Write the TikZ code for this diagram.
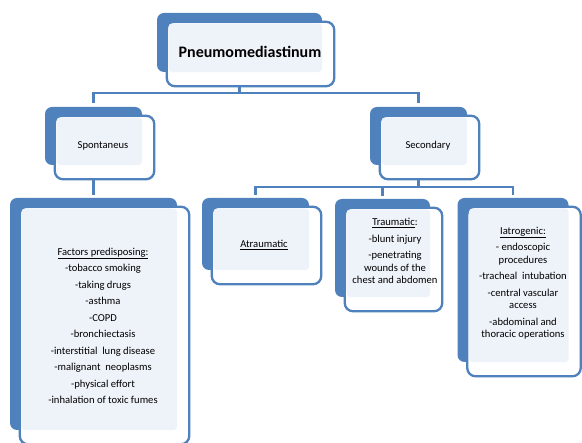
\documentclass[tikz,border=0pt]{standalone}
\usepackage{fontspec}
\setmainfont{Carlito}
\usetikzlibrary{calc}
\definecolor{cardblue}{HTML}{4F81BD}
\definecolor{cardtint}{HTML}{EEF2F9}
\tikzset{
  backcard/.style={fill=cardblue, rounded corners=7pt, inner sep=0pt},
  frontcard/.style={draw=cardblue, line width=2.3pt, fill=white, rounded corners=8pt},
  tint/.style={fill=cardtint, rounded corners=4pt},
  link/.style={draw=cardblue, line width=2.3pt},
  cardtext/.style={align=center, inner sep=0pt, font=\fontsize{10.6}{12.5}\selectfont},
}
\begin{document}
\begin{tikzpicture}[x=1pt, y=-1pt]
        \useasboundingbox [fill=white] (0,0) rectangle (582,443);
        % back cards
        \node [backcard, minimum width=165, minimum height=59] (root) at (239.5,42.5) {};
        \node [backcard, minimum width=97, minimum height=58] (spont) at (93.5,136) {};
        \node [backcard, minimum width=97, minimum height=58] (second) at (418.5,136) {};
        \node [backcard, minimum width=167, minimum height=232] (factors) at (93.5,314) {};
        \node [backcard, minimum width=107, minimum height=72] (atraum) at (255.5,234) {};
        \node [backcard, minimum width=95, minimum height=98] (trauma) at (382.5,248) {};
        \node [backcard, minimum width=111, minimum height=164] (iatro) at (513,280) {};
        % front cards
        \foreach \card in {root,spont,second,factors,atraum,trauma,iatro} {
          \draw [frontcard] ($(\card.north west)+(10,9)$) rectangle ($(\card.south east)+(12,14)$);
          \fill [tint] ($(\card.north west)+(11.5,10.5)$) rectangle (\card.south east);
        }
        % texts
        \node [cardtext, font=\fontsize{16}{20}\selectfont\bfseries] (roottext) at (250,52) {Pneumomediastinum};
        \node [cardtext] (sponttext) at (103,146) {Spontaneus};
        \node [cardtext] (secondtext) at (428,146) {Secondary};
        \node [cardtext, font=\fontsize{10.6}{16.5}\selectfont] (factorstext) at (103,326) {\underline{Factors predisposing:}\\ -tobacco smoking\\ -taking drugs\\ -asthma\\ -COPD\\ -bronchiectasis\\ -interstitial\ \ lung disease\\ -malignant\ \ neoplasms\\ -physical effort\\ -inhalation of toxic fumes};
        \node [cardtext] (atraumtext) at (264,245) {\underline{Atraumatic}};
        \node [cardtext] (traumatext) at (395,251) {\underline{Traumatic}:\\[4pt] -blunt injury\\[4pt] -penetrating\\ wounds of the\\ chest and abdomen};
        \node [cardtext] (iatrotext) at (523,283) {\underline{Iatrogenic:}\\[4pt] - endoscopic\\ procedures\\[4pt] -tracheal\ \ intubation\\[4pt] -central vascular\\ access\\[4pt] -abdominal and\\ thoracic operations};
        % connectors
        \coordinate (rootfork) at ($(root.south)+(0,21)$);
        \coordinate (secfork) at ($(second.south)+(0,22)$);
        \draw [link] ($(root.south)+(0,14)$) -- (rootfork);
        \draw [link, shorten <=4pt, shorten >=4pt] (spont.north) |- (rootfork) -| (second.north);
        \draw [link, shorten >=3pt] ($(spont.south)+(0,14)$) -- (factors.north);
        \draw [link] ($(second.south)+(0,14)$) -- (secfork);
        \draw [link, shorten <=3pt, shorten >=3pt] (atraum.north) |- (secfork) -| (iatro.north);
        \draw [link, shorten >=3pt] (secfork -| trauma.north) -- (trauma.north);
      \end{tikzpicture}
\end{document}
